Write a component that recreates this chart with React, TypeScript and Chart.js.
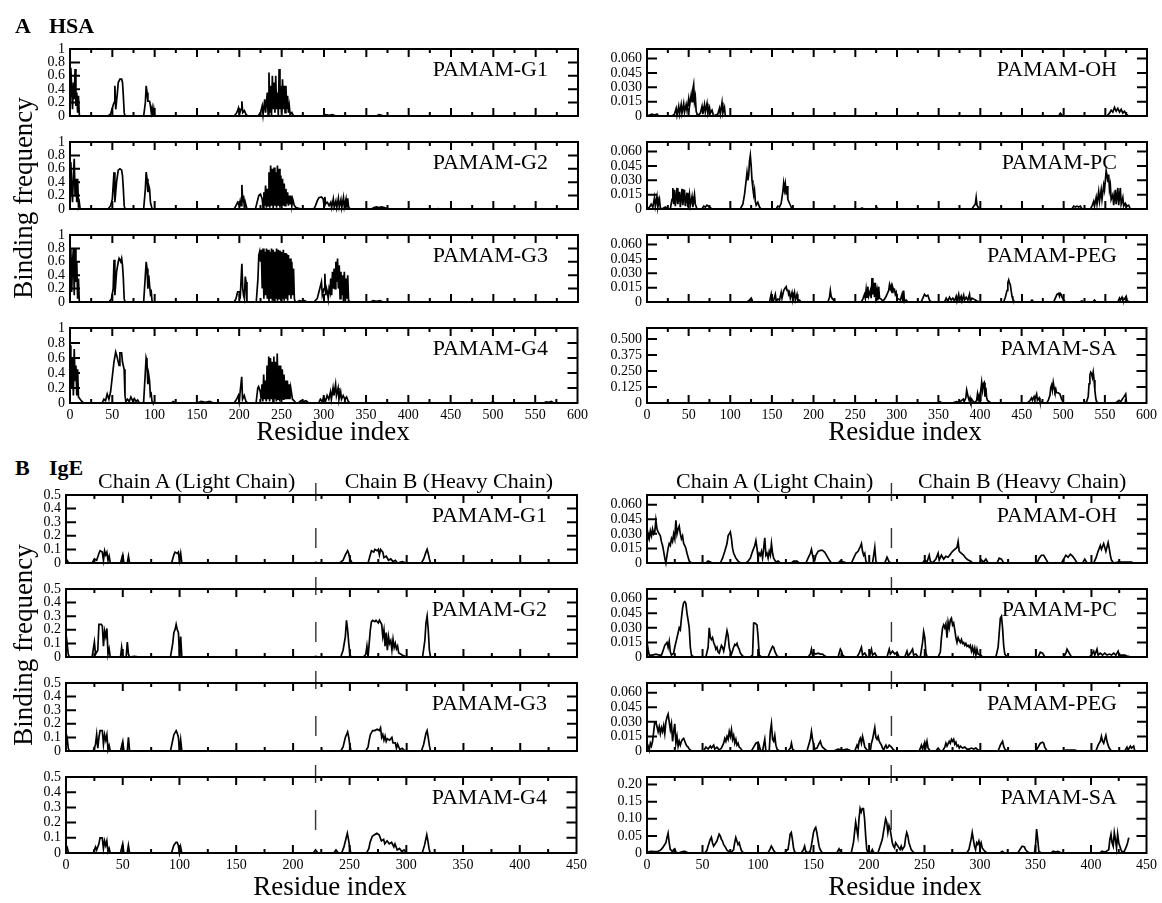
import React, { useEffect, useRef } from "react";
import { Chart, registerables } from "chart.js";

Chart.register(...registerables);

const FONT = '"Liberation Serif", "Times New Roman", Times, serif';
Chart.defaults.font.family = FONT;

// ---------- tick values & labels ----------
const hsaXTicks = [0, 50, 100, 150, 200, 250, 300, 350, 400, 450, 500, 550, 600];
const igeXTicks = [0, 50, 100, 150, 200, 250, 300, 350, 400, 450];
const unitYTicks = [0, 0.2, 0.4, 0.6, 0.8, 1];
const unitYLabels = ["0", "0.2", "0.4", "0.6", "0.8", "1"];
const halfYTicks = [0, 0.1, 0.2, 0.3, 0.4, 0.5];
const halfYLabels = ["0", "0.1", "0.2", "0.3", "0.4", "0.5"];
const smallYTicks = [0, 0.015, 0.03, 0.045, 0.06];
const smallYLabels = ["0", "0.015", "0.030", "0.045", "0.060"];
const hsaSaYTicks = [0, 0.125, 0.25, 0.375, 0.5];
const hsaSaYLabels = ["0", "0.125", "0.250", "0.375", "0.500"];
const igeSaYTicks = [0, 0.05, 0.1, 0.15, 0.2];
const igeSaYLabels = ["0", "0.05", "0.10", "0.15", "0.20"];

// ---------- data: [residue index, binding frequency] ----------
const hsaG1 = [
  [0, 0.3], [1, 0.72], [2, 0.4], [3, 0.1], [4, 0.5], [5, 0.25], [6, 0.7], [7, 0.15], [8, 0.35], [9, 0.05], [10, 0.3], [11, 0.02], [12, 0],
  [45, 0], [48, 0.03], [50, 0.12], [52, 0.2], [53, 0.45], [54, 0.1], [56, 0.35], [57, 0.5], [59, 0.55], [61, 0.55], [62, 0.5], [63, 0.3], [64, 0.05], [65, 0],
  [87, 0], [89, 0.2], [90, 0.45], [91, 0.35], [92, 0.22], [94, 0.22], [95, 0.15], [96, 0.05], [97, 0.12], [98, 0], [99, 0.1], [100, 0],
  [194, 0], [197, 0.05], [199, 0.12], [200, 0.03], [202, 0.1], [203, 0.22], [204, 0.05], [206, 0.08], [208, 0.02], [210, 0],
  [222, 0], [225, 0.05], [227, 0.15], [228, 0.02], [230, 0.25], [231, 0.05], [233, 0.35], [234, 0.02], [235, 0.65], [236, 0.05], [237, 0.45], [238, 0], [239, 0.6], [240, 0.1], [241, 0.5], [242, 0.05], [243, 0.6], [244, 0.1], [245, 0.35], [246, 0], [247, 0.7], [248, 0.1], [249, 0.45], [250, 0.05], [251, 0.55], [252, 0.1], [253, 0.45], [254, 0.05], [255, 0.45], [256, 0.1], [257, 0.3], [258, 0.05], [259, 0.15], [260, 0.02], [262, 0.05], [264, 0],
  [298, 0], [302, 0.02], [306, 0.01], [310, 0.02], [314, 0], [362, 0], [365, 0.02], [368, 0.01], [371, 0], [585, 0],
];
const hsaG2 = [
  [0, 0.2], [1, 0.7], [2, 0.3], [3, 0.1], [4, 0.5], [5, 0.75], [6, 0.2], [7, 0.45], [8, 0.1], [9, 0.45], [10, 0.05], [11, 0.1], [12, 0],
  [45, 0], [48, 0.05], [50, 0.15], [52, 0.55], [53, 0.1], [55, 0.4], [57, 0.58], [59, 0.6], [61, 0.58], [62, 0.5], [63, 0.3], [64, 0.05], [65, 0],
  [87, 0], [89, 0.3], [90, 0.55], [91, 0.45], [92, 0.25], [93, 0.35], [94, 0.3], [95, 0.1], [96, 0.05], [97, 0],
  [194, 0], [196, 0.05], [198, 0.1], [200, 0.05], [201, 0.12], [202, 0.05], [203, 0.36], [204, 0.1], [205, 0.2], [206, 0], [207, 0.1], [209, 0],
  [219, 0], [221, 0.1], [223, 0.2], [225, 0.22], [227, 0.15], [228, 0.02], [229, 0.25], [230, 0.05], [231, 0.35], [232, 0.02], [233, 0.3], [234, 0.05], [235, 0.55], [236, 0.02], [237, 0.65], [238, 0.05], [239, 0.6], [240, 0], [241, 0.62], [242, 0.05], [243, 0.55], [244, 0.02], [245, 0.65], [246, 0.05], [247, 0.6], [248, 0.02], [249, 0.5], [250, 0.05], [251, 0.45], [252, 0.05], [253, 0.38], [254, 0.05], [255, 0.3], [256, 0.08], [257, 0.25], [258, 0.05], [259, 0.2], [260, 0.08], [261, 0.2], [262, 0.05], [263, 0.15], [265, 0.05], [267, 0.02], [270, 0.01], [274, 0],
  [288, 0], [290, 0.05], [292, 0.12], [294, 0.17], [297, 0.18], [299, 0.15], [300, 0.05], [301, 0.18], [302, 0.08], [304, 0.1], [306, 0.05], [308, 0.1], [309, 0.02], [311, 0.15], [312, 0.03], [314, 0.12], [315, 0.02], [317, 0.16], [318, 0.03], [320, 0.14], [321, 0.02], [323, 0.17], [324, 0.03], [326, 0.15], [327, 0.02], [328, 0.16], [329, 0.03], [331, 0],
  [356, 0], [359, 0.02], [362, 0.03], [365, 0.02], [368, 0.03], [371, 0.02], [374, 0.01], [377, 0], [433, 0], [435, 0.005], [437, 0], [585, 0],
];
const hsaG3 = [
  [0, 0.3], [1, 0.8], [2, 0.15], [3, 0.6], [4, 0.8], [5, 0.1], [6, 0.8], [7, 0.3], [8, 0.6], [9, 0.05], [10, 0.35], [11, 0], [12, 0],
  [46, 0], [49, 0.05], [51, 0.2], [52, 0.63], [53, 0.1], [55, 0.45], [57, 0.6], [58, 0.65], [60, 0.6], [61, 0.65], [62, 0.55], [63, 0.35], [64, 0.05], [65, 0],
  [87, 0], [89, 0.4], [90, 0.6], [91, 0.5], [92, 0.2], [93, 0.4], [94, 0.25], [95, 0.12], [96, 0.15], [97, 0],
  [194, 0], [196, 0.05], [198, 0.15], [200, 0.15], [201, 0.05], [203, 0.57], [204, 0.2], [205, 0.1], [206, 0.05], [207, 0.38], [208, 0.3], [209, 0], [210, 0],
  [220, 0], [222, 0.35], [223, 0.7], [224, 0.75], [225, 0.6], [226, 0.78], [227, 0.2], [228, 0.8], [229, 0.05], [230, 0.75], [231, 0.1], [232, 0.8], [233, 0.05], [234, 0.78], [235, 0], [236, 0.75], [237, 0.05], [238, 0.8], [239, 0.02], [240, 0.78], [241, 0], [242, 0.75], [243, 0.05], [244, 0.8], [245, 0.02], [246, 0.78], [247, 0.05], [248, 0.77], [249, 0.02], [250, 0.75], [251, 0.05], [252, 0.78], [253, 0.02], [254, 0.73], [255, 0.05], [256, 0.72], [257, 0.02], [258, 0.7], [259, 0.1], [260, 0.65], [261, 0.05], [262, 0.6], [263, 0.1], [264, 0.5], [265, 0.05], [266, 0],
  [268, 0], [271, 0.02], [274, 0.01], [277, 0.02], [280, 0],
  [288, 0], [292, 0.05], [294, 0.15], [296, 0.25], [297, 0.3], [298, 0.1], [300, 0.2], [301, 0.42], [302, 0.1], [303, 0.2], [304, 0.15], [305, 0.05], [306, 0.2], [307, 0.15], [308, 0.35], [309, 0.1], [310, 0.45], [311, 0.2], [312, 0.5], [313, 0.2], [314, 0.6], [315, 0.3], [316, 0.65], [317, 0.2], [318, 0.55], [319, 0.05], [320, 0.45], [321, 0.1], [322, 0.4], [323, 0], [324, 0.45], [325, 0.05], [326, 0.35], [327, 0.05], [328, 0.4], [329, 0.02], [331, 0],
  [355, 0], [358, 0.02], [362, 0.01], [366, 0.02], [370, 0], [585, 0],
];
const hsaG4 = [
  [0, 0.77], [1, 0.6], [2, 0.2], [3, 0.6], [4, 0.1], [5, 0.72], [6, 0.3], [7, 0.5], [8, 0.1], [9, 0.45], [10, 0.08], [12, 0.05], [14, 0.02], [16, 0],
  [38, 0], [40, 0.05], [42, 0.03], [44, 0.12], [46, 0.05], [48, 0.15], [50, 0.35], [52, 0.55], [54, 0.68], [56, 0.6], [58, 0.5], [59, 0.67], [61, 0.67], [62, 0.55], [64, 0.45], [65, 0.1], [66, 0.02], [68, 0.05], [70, 0.02], [72, 0.08], [74, 0.03], [76, 0.06], [78, 0.02], [80, 0.04], [82, 0],
  [87, 0], [89, 0.4], [90, 0.6], [91, 0.55], [92, 0.25], [93, 0.38], [94, 0.3], [95, 0.1], [96, 0.12], [97, 0.02], [98, 0],
  [120, 0], [122, 0.02], [125, 0], [150, 0], [155, 0.02], [160, 0.01], [165, 0.02], [170, 0],
  [194, 0], [197, 0.05], [199, 0.1], [200, 0.02], [203, 0.35], [204, 0.05], [206, 0.1], [208, 0.02], [210, 0],
  [220, 0], [222, 0.2], [223, 0.22], [225, 0.15], [226, 0.05], [227, 0.25], [228, 0.02], [229, 0.38], [230, 0.05], [231, 0.3], [232, 0.02], [233, 0.5], [234, 0.05], [235, 0.62], [236, 0.02], [237, 0.6], [238, 0.05], [239, 0.55], [240, 0], [241, 0.62], [242, 0.05], [243, 0.55], [244, 0.02], [245, 0.66], [246, 0.05], [247, 0.5], [248, 0.02], [249, 0.5], [250, 0.05], [251, 0.45], [252, 0.05], [253, 0.38], [254, 0.05], [255, 0.3], [256, 0.05], [257, 0.3], [258, 0.05], [259, 0.25], [260, 0.05], [261, 0.2], [263, 0.05], [265, 0.03], [267, 0],
  [270, 0], [273, 0.03], [276, 0.02], [279, 0.03], [282, 0],
  [294, 0], [296, 0.05], [298, 0.02], [300, 0.08], [302, 0.02], [304, 0.1], [306, 0.05], [308, 0.15], [309, 0.05], [311, 0.2], [312, 0.1], [314, 0.25], [315, 0.1], [317, 0.2], [318, 0.05], [320, 0.15], [321, 0.05], [323, 0.1], [325, 0.05], [327, 0.08], [329, 0.02], [331, 0],
  [498, 0], [500, 0.02], [502, 0], [560, 0], [563, 0.015], [566, 0.01], [569, 0.02], [572, 0], [585, 0],
];
const hsaOH = [
  [0, 0], [3, 0.001], [6, 0.002], [9, 0.001], [12, 0.002], [14, 0],
  [30, 0], [33, 0.002], [35, 0.008], [36, 0.001], [38, 0.01], [39, 0.002], [41, 0.012], [42, 0.003], [44, 0.013], [45, 0.004], [47, 0.012], [48, 0.006], [50, 0.018], [51, 0.01], [53, 0.022], [54, 0.015], [55, 0.028], [56, 0.033], [57, 0.015], [58, 0.02], [59, 0.005], [60, 0.002], [62, 0.001], [64, 0.003], [66, 0.01], [67, 0.002], [69, 0.012], [70, 0.004], [72, 0.013], [73, 0.003], [75, 0.009], [76, 0.003], [78, 0.006], [80, 0],
  [85, 0.002], [87, 0.008], [88, 0.002], [90, 0.014], [91, 0.003], [93, 0.009], [94, 0],
  [494, 0], [496, 0.003], [498, 0.001], [500, 0],
  [552, 0], [555, 0.003], [557, 0.006], [559, 0.004], [561, 0.009], [563, 0.005], [565, 0.008], [567, 0.004], [569, 0.007], [571, 0.003], [573, 0.005], [575, 0.002], [578, 0],
];
const hsaPC = [
  [0, 0], [3, 0.002], [5, 0.005], [7, 0.002], [9, 0.012], [10, 0.003], [12, 0.013], [13, 0.002], [15, 0.01], [16, 0.001], [18, 0], [22, 0.002], [25, 0],
  [28, 0], [30, 0.01], [31, 0.022], [32, 0.005], [33, 0.02], [34, 0.003], [36, 0.022], [37, 0.005], [39, 0.018], [40, 0.002], [42, 0.021], [43, 0.004], [45, 0.02], [46, 0.003], [48, 0.017], [49, 0.002], [51, 0.015], [52, 0.004], [54, 0.013], [55, 0.002], [57, 0.015], [58, 0.005], [60, 0],
  [66, 0], [68, 0.003], [70, 0.002], [72, 0.004], [75, 0.002], [78, 0],
  [112, 0], [115, 0.005], [117, 0.015], [119, 0.03], [120, 0.038], [121, 0.03], [122, 0.035], [123, 0.05], [124, 0.056], [125, 0.045], [126, 0.03], [127, 0.022], [128, 0.015], [129, 0.02], [130, 0.008], [131, 0.004], [133, 0.007], [135, 0.002], [137, 0],
  [155, 0], [157, 0.003], [159, 0.002], [161, 0.006], [163, 0.018], [164, 0.027], [165, 0.02], [166, 0.026], [167, 0.015], [168, 0.024], [169, 0.01], [171, 0.006], [173, 0.002], [175, 0],
  [256, 0], [258, 0.001], [260, 0], [274, 0], [276, 0.001], [278, 0],
  [390, 0], [392, 0.003], [394, 0.005], [395, 0.012], [396, 0.004], [398, 0.001], [400, 0],
  [510, 0], [512, 0.003], [514, 0.002], [516, 0.003], [518, 0.002], [520, 0.003], [522, 0],
  [532, 0], [534, 0.003], [536, 0.008], [537, 0.003], [539, 0.012], [540, 0.005], [542, 0.018], [543, 0.008], [545, 0.02], [546, 0.01], [548, 0.025], [549, 0.02], [550, 0.03], [551, 0.04], [552, 0.035], [553, 0.028], [554, 0.036], [555, 0.02], [556, 0.025], [557, 0.01], [559, 0.015], [560, 0.004], [562, 0.02], [563, 0.005], [565, 0.022], [566, 0.004], [568, 0.022], [569, 0.005], [571, 0.012], [572, 0.003], [574, 0.006], [576, 0.003], [578, 0.004], [580, 0],
];
const hsaPEG = [
  [0, 0], [120, 0], [123, 0.002], [125, 0.004], [127, 0],
  [147, 0], [149, 0.008], [150, 0.001], [152, 0.002], [154, 0.008], [155, 0.001], [157, 0.003], [159, 0.002], [161, 0.01], [162, 0.004], [164, 0.012], [166, 0.015], [167, 0.016], [168, 0.012], [169, 0.013], [170, 0.008], [171, 0.01], [172, 0.004], [174, 0.01], [175, 0.003], [177, 0.01], [178, 0.002], [180, 0.008], [181, 0.002], [183, 0.002], [185, 0],
  [217, 0], [219, 0.005], [220, 0.012], [221, 0.006], [222, 0.004], [224, 0.002], [226, 0],
  [257, 0], [259, 0.003], [261, 0.008], [262, 0.004], [263, 0.013], [264, 0.005], [265, 0.016], [266, 0.006], [268, 0.012], [269, 0.004], [270, 0.025], [271, 0.008], [272, 0.02], [273, 0.005], [274, 0.02], [275, 0.006], [276, 0.012], [277, 0.002], [278, 0.016], [279, 0.004], [281, 0.003], [283, 0.001], [285, 0.003], [287, 0.006], [289, 0.01], [290, 0.012], [291, 0.018], [292, 0.014], [293, 0.017], [294, 0.01], [295, 0.015], [296, 0.012], [297, 0.013], [298, 0.008], [299, 0.01], [300, 0.004], [302, 0.003], [304, 0.002], [306, 0.008], [307, 0.001], [308, 0.012], [309, 0], [311, 0.002], [313, 0],
  [329, 0], [331, 0.004], [333, 0.008], [335, 0.006], [337, 0.007], [339, 0.002], [341, 0],
  [357, 0], [359, 0.004], [361, 0.001], [363, 0.005], [365, 0.002], [367, 0.004], [369, 0.001], [371, 0.006], [372, 0.001], [374, 0.008], [375, 0.002], [377, 0.006], [378, 0.001], [380, 0.007], [381, 0.002], [383, 0.005], [385, 0.002], [387, 0.008], [388, 0.001], [390, 0.004], [392, 0.003], [394, 0.002], [396, 0.001], [400, 0],
  [428, 0], [430, 0.005], [432, 0.012], [433, 0.02], [434, 0.023], [435, 0.02], [436, 0.018], [437, 0.012], [438, 0.006], [439, 0.003], [441, 0],
  [460, 0], [462, 0.002], [464, 0],
  [488, 0], [490, 0.004], [492, 0.008], [494, 0.009], [495, 0.006], [496, 0.009], [497, 0.008], [498, 0.005], [500, 0.002], [502, 0],
  [519, 0], [522, 0.001], [524, 0], [535, 0], [537, 0.002], [539, 0],
  [565, 0], [567, 0.004], [568, 0.002], [570, 0.005], [571, 0.002], [573, 0.003], [575, 0.006], [576, 0.002], [578, 0], [580, 0],
];
const hsaSA = [
  [0, 0], [350, 0], [352, 0.01], [354, 0],
  [365, 0], [368, 0.003], [372, 0.01], [375, 0.005], [378, 0.02], [380, 0.03], [381, 0.01], [383, 0.04], [384, 0.1], [385, 0.07], [386, 0.04], [387, 0.02], [388, 0.04], [389, 0.01], [390, 0.03], [392, 0.01], [394, 0.005], [396, 0.02], [397, 0.07], [398, 0.03], [399, 0.06], [400, 0.02], [401, 0.1], [402, 0.16], [403, 0.1], [404, 0.15], [405, 0.16], [406, 0.05], [407, 0.12], [408, 0.04], [409, 0.02], [411, 0.01], [413, 0],
  [455, 0], [458, 0.005], [460, 0.02], [462, 0.04], [463, 0.02], [465, 0.05], [466, 0.03], [468, 0.07], [469, 0.02], [471, 0.04], [472, 0.01], [474, 0.005], [476, 0],
  [480, 0], [482, 0.02], [484, 0.06], [485, 0.12], [486, 0.14], [487, 0.1], [488, 0.16], [489, 0.12], [490, 0.09], [491, 0.11], [492, 0.08], [494, 0.08], [496, 0.07], [497, 0.05], [498, 0.03], [500, 0.005], [502, 0],
  [526, 0], [528, 0.01], [530, 0.05], [531, 0.15], [532, 0.22], [533, 0.24], [534, 0.23], [535, 0.2], [536, 0.24], [537, 0.18], [538, 0.1], [539, 0.04], [540, 0.01], [542, 0],
  [562, 0], [565, 0.01], [567, 0.02], [569, 0.01], [571, 0.03], [573, 0.05], [575, 0.07], [576, 0],
];

const igeG1 = [
  [0, 0.03], [1, 0.02], [2, 0.005], [3, 0],
  [23, 0], [25, 0.03], [27, 0.02], [29, 0.07], [30, 0.09], [32, 0.08], [33, 0.02], [34, 0.09], [35, 0.06], [36, 0.08], [37, 0.02], [38, 0.05], [39, 0],
  [48, 0], [50, 0.06], [51, 0], [54, 0], [55, 0.05], [56, 0],
  [93, 0], [95, 0.06], [96, 0.08], [98, 0.07], [99, 0.08], [100, 0.02], [101, 0.07], [102, 0],
  [218, 0], [220, 0.005], [222, 0],
  [241, 0], [244, 0.02], [246, 0.06], [248, 0.09], [249, 0.07], [250, 0.03], [252, 0],
  [266, 0], [268, 0.06], [269, 0.09], [271, 0.08], [272, 0.1], [274, 0.09], [275, 0.1], [276, 0.06], [277, 0.1], [279, 0.08], [280, 0.04], [282, 0.05], [284, 0.02], [286, 0.03], [288, 0.01], [290, 0.02], [292, 0], [296, 0.01], [300, 0],
  [313, 0], [315, 0.03], [317, 0.08], [318, 0.1], [319, 0.07], [320, 0.03], [321, 0], [438, 0],
];
const igeG2 = [
  [0, 0.17], [1, 0.1], [2, 0.02], [3, 0],
  [23, 0], [25, 0.11], [26, 0.02], [28, 0.05], [29, 0.24], [31, 0.24], [32, 0.23], [33, 0.08], [34, 0.19], [35, 0.15], [36, 0.21], [37, 0.02], [38, 0.06], [39, 0],
  [48, 0], [49, 0.07], [50, 0], [53, 0], [54, 0.11], [55, 0.02], [56, 0], [60, 0.005], [65, 0],
  [92, 0], [94, 0.1], [95, 0.18], [96, 0.2], [97, 0.24], [98, 0.2], [99, 0.18], [100, 0], [101, 0.15], [102, 0],
  [218, 0], [220, 0.005], [222, 0],
  [242, 0], [244, 0.05], [246, 0.15], [247, 0.27], [248, 0.2], [249, 0.1], [250, 0.02], [251, 0],
  [262, 0], [264, 0.02], [265, 0.08], [266, 0], [267, 0.1], [268, 0.2], [269, 0.26], [270, 0.27], [272, 0.26], [273, 0.27], [275, 0.25], [276, 0.27], [278, 0.24], [279, 0.15], [280, 0.2], [281, 0.08], [282, 0.18], [283, 0.05], [284, 0.15], [285, 0.1], [286, 0.12], [287, 0.05], [288, 0.13], [289, 0.07], [290, 0.1], [291, 0.06], [292, 0.08], [293, 0.03], [295, 0.02], [297, 0.01], [300, 0],
  [314, 0], [316, 0.12], [317, 0.25], [318, 0.3], [319, 0.2], [320, 0.05], [321, 0], [438, 0],
];
const igeG3 = [
  [0, 0.13], [1, 0.1], [2, 0.02], [3, 0],
  [24, 0], [26, 0.05], [27, 0.12], [28, 0.02], [29, 0.1], [30, 0.15], [32, 0.15], [33, 0.05], [34, 0.12], [35, 0.08], [36, 0.12], [37, 0.01], [38, 0.04], [39, 0],
  [48, 0], [50, 0.07], [51, 0], [54, 0], [55, 0.1], [56, 0],
  [73, 0], [75, 0.005], [77, 0],
  [92, 0], [94, 0.08], [95, 0.12], [97, 0.15], [98, 0.13], [99, 0.1], [100, 0], [101, 0.08], [102, 0],
  [148, 0], [150, 0.003], [152, 0],
  [242, 0], [244, 0.03], [246, 0.1], [248, 0.14], [249, 0.1], [250, 0.04], [251, 0],
  [264, 0], [266, 0.03], [267, 0.08], [268, 0.12], [270, 0.15], [272, 0.15], [274, 0.16], [276, 0.15], [277, 0.17], [278, 0.1], [279, 0.12], [280, 0.08], [281, 0.11], [282, 0.07], [283, 0.09], [285, 0.08], [287, 0.1], [288, 0.06], [290, 0.06], [291, 0.02], [292, 0.05], [294, 0.01], [296, 0.02], [298, 0.005], [300, 0],
  [313, 0], [315, 0.05], [317, 0.13], [318, 0.15], [319, 0.1], [320, 0.04], [321, 0], [438, 0],
];
const igeG4 = [
  [0, 0.05], [1, 0.04], [2, 0.005], [3, 0],
  [24, 0], [26, 0.04], [27, 0.02], [29, 0.06], [30, 0.1], [32, 0.1], [33, 0.03], [34, 0.08], [35, 0.05], [36, 0.08], [37, 0.01], [38, 0.03], [39, 0],
  [48, 0], [50, 0.06], [51, 0], [54, 0], [55, 0.05], [56, 0],
  [93, 0], [95, 0.05], [97, 0.07], [98, 0.07], [99, 0.05], [100, 0], [101, 0.04], [102, 0],
  [218, 0], [220, 0.02], [222, 0],
  [236, 0], [238, 0.02], [240, 0],
  [243, 0], [245, 0.04], [247, 0.1], [248, 0.13], [249, 0.09], [250, 0.04], [251, 0],
  [265, 0], [267, 0.03], [268, 0.07], [270, 0.11], [272, 0.12], [274, 0.13], [276, 0.12], [277, 0.1], [278, 0.08], [280, 0.09], [281, 0.06], [283, 0.08], [285, 0.06], [287, 0.07], [289, 0.04], [290, 0.06], [292, 0.02], [294, 0.03], [296, 0.01], [298, 0.02], [300, 0],
  [314, 0], [316, 0.05], [318, 0.12], [319, 0.08], [320, 0.03], [321, 0], [438, 0],
];
const igeOH = [
  [0, 0.02], [1, 0.03], [2, 0.025], [3, 0.033], [4, 0.028], [5, 0.035], [6, 0.03], [7, 0.032], [8, 0.044], [9, 0.035], [10, 0.032], [11, 0.03], [12, 0.028], [13, 0.022], [14, 0.018], [15, 0.012], [16, 0.005], [17, 0], [18, 0.008], [19, 0.015], [20, 0.02], [21, 0.018], [22, 0.025], [23, 0.022], [24, 0.03], [25, 0.025], [26, 0.044], [27, 0.03], [28, 0.035], [29, 0.038], [30, 0.03], [31, 0.025], [32, 0.028], [33, 0.02], [34, 0.018], [35, 0.015], [36, 0.01], [37, 0.006], [38, 0.002], [40, 0],
  [53, 0], [55, 0.002], [57, 0.001], [59, 0],
  [66, 0], [68, 0.005], [70, 0.012], [72, 0.02], [73, 0.028], [75, 0.032], [76, 0.025], [77, 0.015], [78, 0.01], [80, 0.005], [82, 0.002], [84, 0],
  [89, 0], [91, 0.002], [93, 0.005], [95, 0.012], [97, 0.018], [98, 0.023], [99, 0.015], [100, 0.005], [101, 0.01], [102, 0.008], [103, 0.012], [104, 0.005], [105, 0.015], [106, 0.026], [107, 0.008], [108, 0.01], [109, 0.005], [110, 0.012], [111, 0.008], [112, 0.02], [113, 0.01], [114, 0.005], [115, 0.003], [116, 0.001], [118, 0.002], [120, 0],
  [130, 0], [132, 0.002], [135, 0.002], [137, 0],
  [143, 0], [145, 0.005], [147, 0.01], [148, 0.014], [149, 0.008], [150, 0.004], [151, 0.003], [152, 0.008], [154, 0.012], [156, 0.013], [158, 0.013], [160, 0.011], [162, 0.007], [164, 0.003], [166, 0],
  [172, 0], [174, 0.002], [177, 0.001], [180, 0],
  [184, 0], [186, 0.005], [188, 0.01], [190, 0.012], [192, 0.017], [193, 0.02], [194, 0.012], [195, 0.008], [196, 0.01], [197, 0.002], [198, 0],
  [203, 0], [205, 0.016], [206, 0.002], [207, 0],
  [214, 0], [216, 0.006], [218, 0.001], [220, 0],
  [248, 0], [250, 0.003], [252, 0.001], [254, 0.008], [255, 0.002], [257, 0],
  [260, 0.004], [262, 0.01], [263, 0.003], [265, 0.008], [267, 0.004], [269, 0.007], [271, 0.006], [273, 0.009], [275, 0.012], [277, 0.014], [279, 0.016], [280, 0.022], [281, 0.012], [283, 0.01], [285, 0.008], [287, 0.005], [289, 0.003], [291, 0.002], [293, 0],
  [299, 0], [301, 0.003], [303, 0.001], [305, 0.004], [307, 0],
  [315, 0], [317, 0.005], [319, 0.004], [321, 0],
  [351, 0], [353, 0.005], [355, 0.008], [357, 0.008], [359, 0.004], [361, 0],
  [373, 0], [375, 0.004], [377, 0.008], [379, 0.006], [381, 0.009], [383, 0.007], [385, 0.004], [387, 0],
  [392, 0], [394, 0.004], [396, 0],
  [402, 0], [404, 0.005], [406, 0.012], [408, 0.018], [409, 0.014], [411, 0.02], [412, 0.016], [413, 0.012], [415, 0.021], [416, 0.015], [417, 0.008], [418, 0.003], [420, 0],
  [424, 0.001], [430, 0.001], [436, 0.001], [438, 0],
];
const igePC = [
  [0, 0.015], [1, 0.008], [2, 0.002], [5, 0.002], [8, 0.003], [11, 0.002], [13, 0.002], [14, 0.005], [16, 0.012], [18, 0.015], [19, 0.01], [20, 0.016], [21, 0.005], [22, 0.002], [24, 0.004], [25, 0.01], [27, 0.02], [28, 0.025], [29, 0.03], [30, 0.028], [31, 0.04], [32, 0.05], [33, 0.056], [34, 0.057], [35, 0.055], [36, 0.045], [37, 0.038], [38, 0.03], [39, 0.01], [40, 0.002], [42, 0],
  [53, 0], [55, 0.01], [56, 0.03], [57, 0.02], [58, 0.018], [59, 0.02], [60, 0.015], [61, 0.012], [62, 0.008], [63, 0.01], [64, 0.005], [65, 0.004], [66, 0.008], [67, 0.012], [68, 0.01], [69, 0.006], [70, 0.012], [71, 0.02], [72, 0.027], [73, 0.022], [74, 0.01], [75, 0.005], [76, 0.003], [78, 0.01], [79, 0.013], [80, 0.012], [81, 0.014], [82, 0.01], [83, 0.008], [84, 0.004], [86, 0.001], [88, 0],
  [93, 0], [95, 0.002], [96, 0.035], [97, 0.035], [98, 0.034], [99, 0.033], [100, 0.02], [101, 0.002], [103, 0],
  [109, 0], [111, 0.006], [113, 0.011], [114, 0.01], [115, 0.006], [117, 0.001], [119, 0],
  [145, 0], [147, 0.003], [148, 0.008], [149, 0.002], [150, 0.004], [152, 0.003], [154, 0.004], [156, 0.003], [158, 0.003], [160, 0.001], [162, 0],
  [172, 0], [174, 0.008], [175, 0.006], [176, 0.002], [178, 0],
  [189, 0], [191, 0.004], [193, 0.01], [194, 0.002], [196, 0.004], [198, 0],
  [200, 0], [202, 0.008], [203, 0.002], [205, 0.004], [207, 0],
  [216, 0], [218, 0.008], [219, 0.003], [221, 0.006], [223, 0.003], [225, 0.005], [227, 0],
  [232, 0], [234, 0.006], [235, 0.001], [237, 0.004], [239, 0.008], [240, 0.002], [242, 0.003], [244, 0],
  [246, 0], [248, 0.015], [249, 0.026], [250, 0.02], [251, 0.005], [252, 0],
  [262, 0], [264, 0.005], [265, 0.02], [266, 0.03], [267, 0.033], [268, 0.03], [269, 0.034], [270, 0.02], [271, 0.036], [272, 0.03], [273, 0.038], [274, 0.04], [275, 0.033], [276, 0.035], [277, 0.028], [278, 0.02], [279, 0.015], [280, 0.02], [281, 0.017], [282, 0.015], [283, 0.018], [284, 0.014], [285, 0.015], [286, 0.012], [287, 0.014], [288, 0.011], [289, 0.012], [290, 0.01], [291, 0.012], [292, 0.006], [293, 0.01], [294, 0.004], [295, 0.009], [296, 0.002], [297, 0.008], [298, 0.003], [300, 0.002], [302, 0],
  [314, 0], [316, 0.01], [317, 0.025], [318, 0.04], [319, 0.042], [320, 0.03], [321, 0.012], [322, 0.003], [324, 0],
  [352, 0], [354, 0.005], [356, 0.004], [358, 0],
  [375, 0], [377, 0.004], [378, 0.008], [380, 0.004], [382, 0],
  [398, 0], [400, 0.002], [402, 0.006], [403, 0.002], [405, 0.008], [406, 0.002], [408, 0.004], [410, 0.002], [412, 0.004], [414, 0.002], [416, 0.003], [418, 0.002], [420, 0.004], [422, 0.002], [424, 0.006], [425, 0.002], [427, 0.002], [430, 0.002], [432, 0.001], [436, 0],
];
const igePEG = [
  [0, 0.002], [1, 0.005], [2, 0.001], [3, 0.008], [4, 0.005], [5, 0.01], [6, 0.02], [7, 0.03], [8, 0.03], [9, 0.025], [10, 0.02], [11, 0.025], [12, 0.018], [13, 0.024], [14, 0.02], [15, 0.026], [16, 0.018], [17, 0.03], [18, 0.035], [19, 0.038], [20, 0.03], [21, 0.022], [22, 0.028], [23, 0.01], [24, 0.02], [25, 0.028], [26, 0.008], [27, 0.015], [28, 0.005], [29, 0.01], [30, 0.006], [31, 0.01], [32, 0.012], [33, 0.013], [34, 0.01], [35, 0.007], [36, 0.005], [37, 0.004], [38, 0.002], [40, 0],
  [51, 0], [53, 0.004], [55, 0.002], [57, 0.005], [58, 0.003], [60, 0.006], [61, 0.002], [63, 0.004], [65, 0.001], [67, 0.003], [69, 0.008], [70, 0.013], [71, 0.01], [72, 0.015], [73, 0.012], [74, 0.02], [75, 0.015], [76, 0.022], [77, 0.012], [78, 0.016], [79, 0.008], [80, 0.012], [81, 0.006], [82, 0.008], [83, 0.004], [84, 0.003], [86, 0],
  [94, 0], [96, 0.004], [98, 0.008], [100, 0.009], [101, 0.006], [102, 0.001], [104, 0], [106, 0.012], [107, 0], [110, 0], [111, 0.02], [112, 0.028], [113, 0.012], [114, 0.01], [115, 0.016], [116, 0.006], [117, 0.002], [119, 0],
  [127, 0], [129, 0.003], [130, 0.008], [131, 0.002], [133, 0],
  [144, 0], [146, 0.008], [147, 0.012], [148, 0.02], [149, 0.012], [150, 0.006], [151, 0.002], [153, 0.003], [155, 0.008], [156, 0.01], [157, 0.006], [158, 0.004], [160, 0.002], [162, 0],
  [168, 0], [172, 0.002], [176, 0.001], [180, 0.002], [184, 0],
  [187, 0], [189, 0.006], [190, 0.003], [191, 0.01], [192, 0.013], [193, 0.008], [194, 0.015], [195, 0.01], [196, 0.004], [198, 0.001], [200, 0],
  [201, 0], [202, 0.008], [203, 0.012], [204, 0.018], [205, 0.024], [206, 0.014], [207, 0.012], [208, 0.015], [209, 0.01], [210, 0.008], [211, 0.006], [212, 0.003], [213, 0.001], [214, 0.004], [215, 0.006], [216, 0.003], [217, 0.004], [218, 0.006], [219, 0.005], [220, 0.004], [222, 0.001], [224, 0],
  [245, 0], [247, 0.006], [248, 0.002], [250, 0.009], [251, 0.004], [252, 0.01], [253, 0.003], [255, 0],
  [260, 0], [262, 0.003], [264, 0],
  [266, 0], [268, 0.004], [269, 0.008], [270, 0.005], [272, 0.01], [273, 0.008], [274, 0.012], [275, 0.01], [276, 0.012], [277, 0.007], [278, 0.009], [279, 0.005], [280, 0.006], [281, 0.003], [282, 0.005], [284, 0.003], [286, 0.004], [288, 0.002], [290, 0.002], [292, 0.003], [294, 0.002], [296, 0.003], [298, 0.001], [300, 0],
  [316, 0], [318, 0.006], [320, 0.01], [321, 0.005], [322, 0.002], [324, 0],
  [350, 0], [352, 0.004], [354, 0.008], [356, 0.009], [357, 0.008], [358, 0.004], [360, 0],
  [375, 0], [377, 0.001], [381, 0.001], [385, 0.001], [388, 0],
  [404, 0], [406, 0.006], [408, 0.01], [409, 0.015], [410, 0.01], [411, 0.008], [412, 0.012], [413, 0.016], [414, 0.01], [415, 0.006], [416, 0.003], [418, 0],
  [430, 0], [432, 0.004], [433, 0.001], [435, 0.005], [436, 0.003], [437, 0.004], [438, 0.005], [439, 0],
];
const igeSA = [
  [0, 0], [2, 0.004], [4, 0.005], [6, 0.004], [8, 0.004], [10, 0.005], [12, 0.008], [14, 0.015], [16, 0.025], [17, 0.03], [18, 0.045], [19, 0.058], [20, 0.03], [21, 0.01], [22, 0.008], [23, 0.002], [24, 0.01], [25, 0.012], [26, 0.003], [28, 0], [32, 0.004], [34, 0.005], [36, 0.002], [38, 0],
  [52, 0], [54, 0.008], [55, 0.02], [56, 0.03], [57, 0.04], [58, 0.046], [59, 0.03], [60, 0.02], [61, 0.025], [62, 0.03], [63, 0.035], [64, 0.045], [65, 0.055], [66, 0.05], [67, 0.04], [68, 0.035], [69, 0.025], [70, 0.02], [71, 0.015], [72, 0.008], [74, 0.004], [76, 0.003], [78, 0.01], [79, 0.03], [80, 0.045], [81, 0.035], [82, 0.025], [83, 0.03], [84, 0.018], [85, 0.008], [86, 0.003], [88, 0],
  [98, 0], [100, 0.002], [102, 0],
  [109, 0], [111, 0.012], [112, 0.02], [113, 0.015], [114, 0.008], [115, 0.003], [117, 0],
  [124, 0], [126, 0.008], [127, 0.01], [128, 0.03], [129, 0.055], [130, 0.06], [131, 0.04], [132, 0.015], [133, 0.003], [135, 0],
  [139, 0], [141, 0.01], [142, 0.02], [143, 0.005], [145, 0], [147, 0.005], [148, 0.02], [149, 0.04], [150, 0.06], [151, 0.07], [152, 0.075], [153, 0.06], [154, 0.04], [155, 0.02], [156, 0.01], [158, 0],
  [171, 0], [173, 0.012], [174, 0.006], [176, 0],
  [184, 0], [186, 0.03], [187, 0.06], [188, 0.09], [189, 0.07], [190, 0.05], [191, 0.1], [192, 0.13], [193, 0.12], [194, 0.13], [195, 0.13], [196, 0.1], [197, 0.05], [198, 0.01], [199, 0.002], [200, 0], [202, 0.003], [203, 0.01], [204, 0.002], [206, 0],
  [208, 0], [210, 0.02], [211, 0.03], [212, 0.04], [213, 0.06], [214, 0.08], [215, 0.1], [216, 0.09], [217, 0.06], [218, 0.08], [219, 0.07], [220, 0.05], [221, 0.03], [222, 0.02], [223, 0.015], [224, 0.03], [225, 0.025], [226, 0.02], [227, 0.015], [228, 0.01], [229, 0.02], [230, 0.01], [232, 0.02], [233, 0.045], [234, 0.06], [235, 0.05], [236, 0.03], [237, 0.02], [238, 0.01], [240, 0.002], [242, 0],
  [288, 0], [290, 0.01], [291, 0.025], [292, 0.04], [293, 0.06], [294, 0.04], [295, 0.02], [296, 0.01], [297, 0.03], [298, 0.025], [299, 0.035], [300, 0.02], [301, 0.03], [302, 0.015], [303, 0.01], [305, 0.003], [307, 0],
  [318, 0], [320, 0.005], [322, 0],
  [334, 0], [336, 0.01], [338, 0.02], [340, 0.018], [341, 0.01], [343, 0.003], [345, 0],
  [349, 0], [350, 0.02], [351, 0.07], [352, 0.04], [353, 0.005], [355, 0],
  [364, 0], [366, 0.005], [368, 0.003], [370, 0.005], [372, 0.002], [374, 0],
  [408, 0], [410, 0.005], [412, 0.003], [414, 0.005], [416, 0.01], [417, 0.04], [418, 0.055], [419, 0.03], [420, 0.02], [421, 0.06], [422, 0.04], [423, 0.015], [424, 0.055], [425, 0.03], [426, 0.02], [427, 0.01], [428, 0.003], [430, 0.005], [432, 0.02], [433, 0.03], [434, 0.045],
];

// ---------- layout ----------
const A_TOPS = [47, 140, 233, 326];
const A_H = 77;
const B_TOPS = [493, 587, 681, 775];
const B_H = 78;
const A_LEFT = [70, 578];
const A_RIGHT = [647, 1147];
const B_LEFT = [66, 577];
const B_RIGHT = [647, 1147];

const Y_AXIS_W = 48;
const PAD_T = 10;
const PAD_R = 14;
const PAD_B = 4;
const X_AXIS_H = 22;

type PanelDef = {
  key: string;
  data: number[][];
  name: string;
  col: number[];
  top: number;
  h: number;
  xMax: number;
  xTicks: number[];
  yMax: number;
  yTicks: number[];
  yLabels: string[];
  showX: boolean;
  dashAt?: number;
};

const panels: PanelDef[] = [
  { key: "aG1", data: hsaG1, name: "PAMAM-G1", col: A_LEFT, top: A_TOPS[0], h: A_H, xMax: 600, xTicks: hsaXTicks, yMax: 1, yTicks: unitYTicks, yLabels: unitYLabels, showX: false },
  { key: "aG2", data: hsaG2, name: "PAMAM-G2", col: A_LEFT, top: A_TOPS[1], h: A_H, xMax: 600, xTicks: hsaXTicks, yMax: 1, yTicks: unitYTicks, yLabels: unitYLabels, showX: false },
  { key: "aG3", data: hsaG3, name: "PAMAM-G3", col: A_LEFT, top: A_TOPS[2], h: A_H, xMax: 600, xTicks: hsaXTicks, yMax: 1, yTicks: unitYTicks, yLabels: unitYLabels, showX: false },
  { key: "aG4", data: hsaG4, name: "PAMAM-G4", col: A_LEFT, top: A_TOPS[3], h: A_H, xMax: 600, xTicks: hsaXTicks, yMax: 1, yTicks: unitYTicks, yLabels: unitYLabels, showX: true },
  { key: "aOH", data: hsaOH, name: "PAMAM-OH", col: A_RIGHT, top: A_TOPS[0], h: A_H, xMax: 600, xTicks: hsaXTicks, yMax: 0.07, yTicks: smallYTicks, yLabels: smallYLabels, showX: false },
  { key: "aPC", data: hsaPC, name: "PAMAM-PC", col: A_RIGHT, top: A_TOPS[1], h: A_H, xMax: 600, xTicks: hsaXTicks, yMax: 0.07, yTicks: smallYTicks, yLabels: smallYLabels, showX: false },
  { key: "aPEG", data: hsaPEG, name: "PAMAM-PEG", col: A_RIGHT, top: A_TOPS[2], h: A_H, xMax: 600, xTicks: hsaXTicks, yMax: 0.07, yTicks: smallYTicks, yLabels: smallYLabels, showX: false },
  { key: "aSA", data: hsaSA, name: "PAMAM-SA", col: A_RIGHT, top: A_TOPS[3], h: A_H, xMax: 600, xTicks: hsaXTicks, yMax: 0.585, yTicks: hsaSaYTicks, yLabels: hsaSaYLabels, showX: true },
  { key: "bG1", data: igeG1, name: "PAMAM-G1", col: B_LEFT, top: B_TOPS[0], h: B_H, xMax: 450, xTicks: igeXTicks, yMax: 0.5, yTicks: halfYTicks, yLabels: halfYLabels, showX: false, dashAt: 220 },
  { key: "bG2", data: igeG2, name: "PAMAM-G2", col: B_LEFT, top: B_TOPS[1], h: B_H, xMax: 450, xTicks: igeXTicks, yMax: 0.5, yTicks: halfYTicks, yLabels: halfYLabels, showX: false, dashAt: 220 },
  { key: "bG3", data: igeG3, name: "PAMAM-G3", col: B_LEFT, top: B_TOPS[2], h: B_H, xMax: 450, xTicks: igeXTicks, yMax: 0.5, yTicks: halfYTicks, yLabels: halfYLabels, showX: false, dashAt: 220 },
  { key: "bG4", data: igeG4, name: "PAMAM-G4", col: B_LEFT, top: B_TOPS[3], h: B_H, xMax: 450, xTicks: igeXTicks, yMax: 0.5, yTicks: halfYTicks, yLabels: halfYLabels, showX: true, dashAt: 220 },
  { key: "bOH", data: igeOH, name: "PAMAM-OH", col: B_RIGHT, top: B_TOPS[0], h: B_H, xMax: 450, xTicks: igeXTicks, yMax: 0.07, yTicks: smallYTicks, yLabels: smallYLabels, showX: false, dashAt: 220 },
  { key: "bPC", data: igePC, name: "PAMAM-PC", col: B_RIGHT, top: B_TOPS[1], h: B_H, xMax: 450, xTicks: igeXTicks, yMax: 0.07, yTicks: smallYTicks, yLabels: smallYLabels, showX: false, dashAt: 220 },
  { key: "bPEG", data: igePEG, name: "PAMAM-PEG", col: B_RIGHT, top: B_TOPS[2], h: B_H, xMax: 450, xTicks: igeXTicks, yMax: 0.07, yTicks: smallYTicks, yLabels: smallYLabels, showX: false, dashAt: 220 },
  { key: "bSA", data: igeSA, name: "PAMAM-SA", col: B_RIGHT, top: B_TOPS[3], h: B_H, xMax: 450, xTicks: igeXTicks, yMax: 0.222, yTicks: igeSaYTicks, yLabels: igeSaYLabels, showX: true, dashAt: 220 },
];

const DASH_ORIGIN = 528;
const DASH_ON = 20;
const DASH_OFF = 27;

function makeFramePlugin(def: PanelDef, pageTop: number) {
  return {
    id: "frame_" + def.key,
    afterDatasetsDraw(chart: any) {
      const { ctx, chartArea: a } = chart;
      const xs = chart.scales.x;
      const ys = chart.scales.y;
      ctx.save();
      ctx.strokeStyle = "#000";
      ctx.lineWidth = 2;
      ctx.setLineDash([]);
      ctx.beginPath();
      const t = def.xTicks;
      for (let i = 0; i < t.length; i++) {
        const px = xs.getPixelForValue(t[i]);
        if (i > 0 && i < t.length - 1) {
          ctx.moveTo(px, a.bottom);
          ctx.lineTo(px, a.bottom - 8);
          ctx.moveTo(px, a.top);
          ctx.lineTo(px, a.top + 8);
        }
        if (i < t.length - 1) {
          const m = xs.getPixelForValue((t[i] + t[i + 1]) / 2);
          ctx.moveTo(m, a.bottom);
          ctx.lineTo(m, a.bottom - 4);
          ctx.moveTo(m, a.top);
          ctx.lineTo(m, a.top + 4);
        }
      }
      def.yTicks.forEach((v, i) => {
        if (i === 0) return;
        const py = ys.getPixelForValue(v);
        if (py <= a.top + 2) return;
        ctx.moveTo(a.left, py);
        ctx.lineTo(a.left + 10, py);
        ctx.moveTo(a.right, py);
        ctx.lineTo(a.right - 10, py);
      });
      ctx.stroke();

      if (def.dashAt !== undefined) {
        const px = xs.getPixelForValue(def.dashAt);
        const y0 = 0;
        const y1 = chart.height - (def.showX ? X_AXIS_H : 0);
        const period = DASH_ON + DASH_OFF;
        const phase = ((((pageTop + y0) - DASH_ORIGIN) % period) + period) % period;
        ctx.beginPath();
        ctx.strokeStyle = "#333";
        ctx.lineWidth = 1.4;
        ctx.setLineDash([DASH_ON, DASH_OFF]);
        ctx.lineDashOffset = phase;
        ctx.moveTo(px, y0);
        ctx.lineTo(px, y1);
        ctx.stroke();
        ctx.setLineDash([]);
      }

      ctx.strokeStyle = "#000";
      ctx.lineWidth = 2;
      ctx.strokeRect(a.left, a.top, a.right - a.left, a.bottom - a.top);
      ctx.restore();
    },
  };
}

function Panel({ def }: { def: PanelDef }) {
  const ref = useRef<HTMLCanvasElement>(null);
  const plotW = def.col[1] - def.col[0];
  const left = def.col[0] - Y_AXIS_W;
  const top = def.top - PAD_T;
  const width = Y_AXIS_W + plotW + PAD_R;
  const height = PAD_T + def.h + (def.showX ? X_AXIS_H : PAD_B);

  useEffect(() => {
    if (!ref.current) return;
    const chart = new Chart(ref.current, {
      type: "line",
      data: {
        datasets: [
          {
            data: def.data.map(([x, y]) => ({ x, y })),
            borderColor: "#000",
            borderWidth: 1.7,
            pointRadius: 0,
            tension: 0,
            fill: false,
            clip: false as any,
          },
        ],
      },
      options: {
        responsive: false,
        animation: false,
        devicePixelRatio: 1,
        events: [],
        layout: { padding: { top: PAD_T, right: PAD_R, left: 0, bottom: def.showX ? 0 : PAD_B } },
        plugins: { legend: { display: false }, tooltip: { enabled: false } },
        scales: {
          x: {
            type: "linear",
            min: 0,
            max: def.xMax,
            grid: { display: false, drawTicks: false },
            border: { display: false },
            afterBuildTicks: (s: any) => {
              s.ticks = def.xTicks.map((v) => ({ value: v }));
            },
            afterFit: (s: any) => {
              s.height = def.showX ? X_AXIS_H : 0;
            },
            ticks: {
              display: def.showX,
              autoSkip: false,
              maxRotation: 0,
              padding: 4,
              color: "#000",
              font: { family: FONT, size: 14 },
              callback: (v: any) => String(v),
            },
          },
          y: {
            type: "linear",
            min: 0,
            max: def.yMax,
            grid: { display: false, drawTicks: false },
            border: { display: false },
            afterBuildTicks: (s: any) => {
              s.ticks = def.yTicks.map((v) => ({ value: v }));
            },
            afterFit: (s: any) => {
              s.width = Y_AXIS_W;
            },
            ticks: {
              autoSkip: false,
              padding: 5,
              color: "#000",
              font: { family: FONT, size: 14, lineHeight: 1 },
              callback: (_v: any, i: number) => def.yLabels[i],
            },
          },
        },
      } as any,
      plugins: [makeFramePlugin(def, top)],
    });
    return () => chart.destroy();
  }, []);

  return (
    <>
      <canvas
        ref={ref}
        width={width}
        height={height}
        style={{ position: "absolute", left, top, width, height }}
      />
      <div
        style={{
          position: "absolute",
          left: def.col[1] - 30,
          top: def.top + 11,
          transform: "translateX(-100%)",
          fontSize: 22,
          lineHeight: "22px",
          whiteSpace: "nowrap",
        }}
      >
        {def.name}
      </div>
    </>
  );
}

const textBase: React.CSSProperties = {
  position: "absolute",
  whiteSpace: "nowrap",
  color: "#000",
  lineHeight: 1,
};

export default function App() {
  return (
    <div
      style={{
        position: "absolute",
        left: 0,
        top: 0,
        width: 1162,
        height: 903,
        background: "#fff",
        fontFamily: FONT,
        color: "#000",
        overflow: "hidden",
      }}
    >
      {panels.map((p) => (
        <Panel key={p.key} def={p} />
      ))}

      <div style={{ ...textBase, left: 15, top: 15, fontSize: 22, fontWeight: "bold" }}>A</div>
      <div style={{ ...textBase, left: 49, top: 15, fontSize: 22, fontWeight: "bold" }}>HSA</div>
      <div style={{ ...textBase, left: 15, top: 457, fontSize: 22, fontWeight: "bold" }}>B</div>
      <div style={{ ...textBase, left: 49, top: 457, fontSize: 22, fontWeight: "bold" }}>IgE</div>

      <div style={{ ...textBase, left: 23, top: 198, fontSize: 27, transform: "translate(-50%, -50%) rotate(-90deg)" }}>
        Binding frequency
      </div>
      <div style={{ ...textBase, left: 23, top: 645, fontSize: 27, transform: "translate(-50%, -50%) rotate(-90deg)" }}>
        Binding frequency
      </div>

      <div style={{ ...textBase, left: 333, top: 418, fontSize: 27, transform: "translateX(-50%)" }}>Residue index</div>
      <div style={{ ...textBase, left: 905, top: 418, fontSize: 27, transform: "translateX(-50%)" }}>Residue index</div>
      <div style={{ ...textBase, left: 330, top: 873, fontSize: 27, transform: "translateX(-50%)" }}>Residue index</div>
      <div style={{ ...textBase, left: 905, top: 873, fontSize: 27, transform: "translateX(-50%)" }}>Residue index</div>

      <div style={{ ...textBase, left: 98, top: 470, fontSize: 22 }}>Chain A (Light Chain)</div>
      <div style={{ ...textBase, left: 553, top: 470, fontSize: 22, transform: "translateX(-100%)" }}>Chain B (Heavy Chain)</div>
      <div style={{ ...textBase, left: 676, top: 470, fontSize: 22 }}>Chain A (Light Chain)</div>
      <div style={{ ...textBase, left: 918, top: 470, fontSize: 22 }}>Chain B (Heavy Chain)</div>
    </div>
  );
}
